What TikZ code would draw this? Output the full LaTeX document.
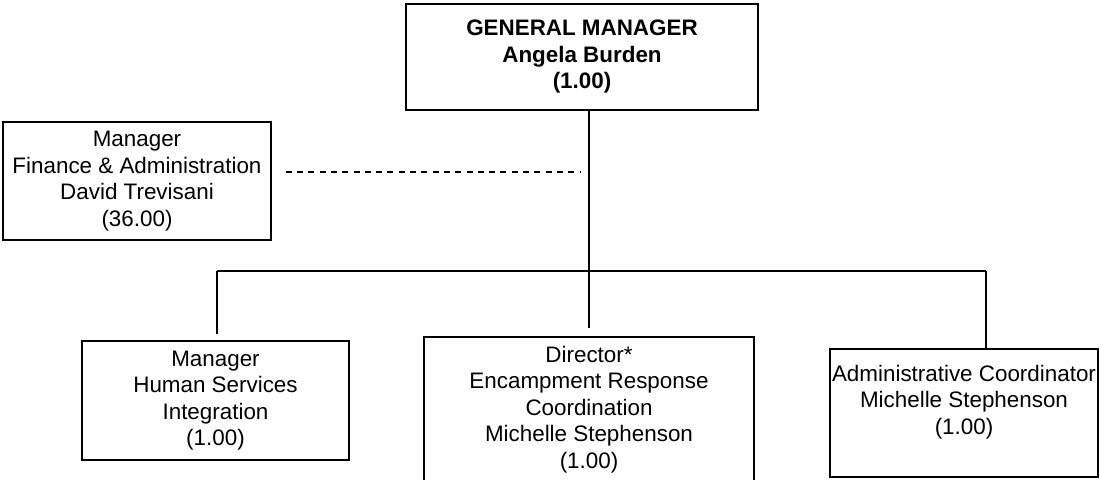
\documentclass[tikz,border=0pt]{standalone}
\usepackage{fontspec}
\setmainfont{Liberation Sans}
\usetikzlibrary{positioning,calc}

\begin{document}
\begin{tikzpicture}[x=1pt,y=-1pt,
    orgbox/.style={draw,line width=1.4pt,align=center,inner sep=0pt,
                   font=\fontsize{22.4}{26.5}\selectfont},
    link/.style={line width=1.4pt},
    dotline/.style={line width=1.2pt,dash pattern=on 6pt off 5.3pt}]

  \useasboundingbox (0,0) rectangle (1099,479);

  % =====================================================================
  % TOP: General Manager and the dotted-line report
  % =====================================================================
  \node[orgbox,font=\fontsize{22.4}{26.5}\selectfont\bfseries,
        minimum width=352pt,minimum height=106pt] (gm) at (582,57)
        {GENERAL MANAGER\\Angela Burden\\(1.00)};

  \node[orgbox,minimum width=268pt,minimum height=118pt] (fin) at (137,181)
        {Manager\\Finance \& Administration\\David Trevisani\\(36.00)};

  % =====================================================================
  % BOTTOM: direct reports
  % =====================================================================
  \node[orgbox,minimum width=267pt,minimum height=119pt] (hs) at (215.5,400.5)
        {Manager\\Human Services\\Integration\\(1.00)};

  % box runs past the lower edge of the page
  \node[orgbox,minimum width=330pt,minimum height=145pt] (dir) at (589,409.5)
        {Director*\\Encampment Response\\Coordination\\Michelle Stephenson\\(1.00)};

  \node[orgbox,minimum width=268pt,minimum height=128pt] (adm) at (964,413)
        {Administrative Coordinator\\Michelle Stephenson\\(1.00)\\ \mbox{}};

  % Connectors
  \coordinate (jn) at (589,271);
  \coordinate (busL) at (217,271);
  \coordinate (busR) at (986,271);
  \coordinate (dashend) at (580,172);

  \draw[link] (gm.south -| jn) -- (jn);
  \draw[link] (busL) -- (busR);
  \draw[link,shorten >=6pt] (busL) -- (busL |- hs.north);
  \draw[link,shorten >=8pt] (jn) -- (jn |- dir.north);
  \draw[link] (busR) -- (busR |- adm.north);

  % dotted-line report to Finance
  \draw[dotline] ([xshift=14pt]fin.east |- dashend) -- (dashend);

\end{tikzpicture}
\end{document}
